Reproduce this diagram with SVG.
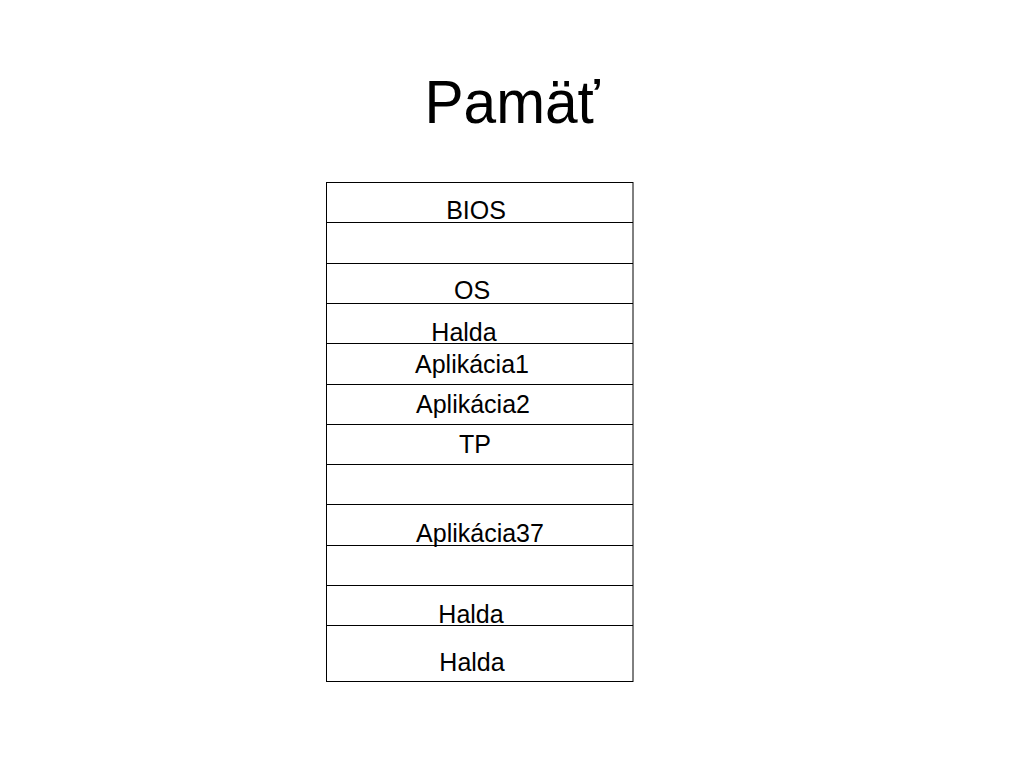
<svg xmlns="http://www.w3.org/2000/svg" width="1024" height="768" viewBox="0 0 1024 768">
<style>
.t{font-family:"Liberation Sans",Arial,sans-serif;font-size:25px;fill:#000;text-anchor:middle}
.ttl{font-family:"Liberation Sans",Arial,sans-serif;font-size:62px;fill:#000;text-anchor:middle}
.ln{stroke:#000;stroke-width:1;fill:none}
</style>
<rect width="1024" height="768" fill="#fff"/>
<text class="ttl" x="512" y="123" textLength="175" lengthAdjust="spacingAndGlyphs">Pamäť</text>
<g id="table">
<rect class="ln" x="326.5" y="182.5" width="306.5" height="499"/>
<line class="ln" x1="326.5" y1="222.5" x2="633" y2="222.5"/>
<line class="ln" x1="326.5" y1="263.5" x2="633" y2="263.5"/>
<line class="ln" x1="326.5" y1="303.5" x2="633" y2="303.5"/>
<line class="ln" x1="326.5" y1="343.5" x2="633" y2="343.5"/>
<line class="ln" x1="326.5" y1="384.5" x2="633" y2="384.5"/>
<line class="ln" x1="326.5" y1="424.5" x2="633" y2="424.5"/>
<line class="ln" x1="326.5" y1="464.5" x2="633" y2="464.5"/>
<line class="ln" x1="326.5" y1="504.5" x2="633" y2="504.5"/>
<line class="ln" x1="326.5" y1="545.5" x2="633" y2="545.5"/>
<line class="ln" x1="326.5" y1="585.5" x2="633" y2="585.5"/>
<line class="ln" x1="326.5" y1="625.5" x2="633" y2="625.5"/>
</g>
<g id="labels">
<text class="t" x="476" y="219">BIOS</text>
<text class="t" x="472" y="299">OS</text>
<text class="t" x="464" y="341">Halda</text>
<text class="t" x="472" y="373">Aplikácia1</text>
<text class="t" x="473" y="413">Aplikácia2</text>
<text class="t" x="475" y="453">TP</text>
<text class="t" x="480" y="542">Aplikácia37</text>
<text class="t" x="471" y="623">Halda</text>
<text class="t" x="472" y="671">Halda</text>
</g>
</svg>
